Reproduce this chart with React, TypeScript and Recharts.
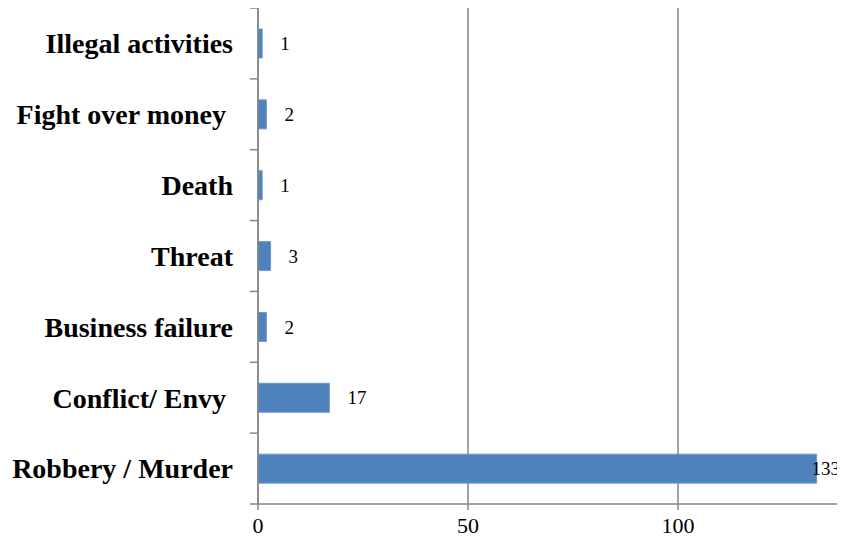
import React from "react";
import { BarChart, Bar, XAxis, YAxis, CartesianGrid, LabelList } from "recharts";

const categories = [
  "Illegal activities",
  "Fight over money ",
  "Death",
  "Threat",
  "Business failure",
  "Conflict/ Envy ",
  "Robbery / Murder",
];
const counts = [1, 2, 1, 3, 2, 17, 133];
const xTicks = [0, 50, 100];

const data = categories.map((name, i) => ({ name, value: counts[i] }));

const AXIS_COLOR = "#868686";
const BAR_COLOR = "#4F81BD";
const FONT = "'Liberation Serif', 'Times New Roman', serif";

const VISIBLE_W = 845;
const CHART_W = 900;
const CHART_H = 544;
const MARGIN = { top: 8, right: 12, bottom: 0, left: 0 };
const Y_W = 258;
const X_H = 40;
const LABEL_FS = 19;

const CategoryTick = (props: any) => {
  const { y, payload, index } = props;
  const plotH = CHART_H - MARGIN.top - MARGIN.bottom - X_H;
  const half =
    payload && typeof payload.offset === "number" && payload.offset > 0
      ? payload.offset
      : plotH / (2 * categories.length);
  const axisX = Y_W + MARGIN.left;
  return (
    <g>
      <line x1={axisX - 8} x2={axisX} y1={y - half} y2={y - half} stroke={AXIS_COLOR} strokeWidth={1.5} />
      {index === categories.length - 1 && (
        <line x1={axisX - 8} x2={axisX} y1={y + half} y2={y + half} stroke={AXIS_COLOR} strokeWidth={1.5} />
      )}
      <text
        x={axisX - 25}
        y={y}
        dy="0.35em"
        textAnchor="end"
        fontFamily={FONT}
        fontWeight="bold"
        fontSize={28}
        fill="#000"
        style={{ whiteSpace: "pre" }}
      >
        {payload.value}
      </text>
    </g>
  );
};

const NumberTick = (props: any) => {
  const { x, y, payload } = props;
  return (
    <text x={x} y={y} dy="0.75em" textAnchor="middle" fontFamily={FONT} fontSize={22} fill="#000">
      {payload.value}
    </text>
  );
};

const ValueLabel = (props: any) => {
  const { x, y, width, height, value } = props;
  const end = x + width;
  const gap = 18;
  const approxW = String(value).length * LABEL_FS * 0.5;
  const tx = end + gap + approxW > VISIBLE_W ? Math.min(end, VISIBLE_W - approxW - 5) : end + gap;
  return (
    <text x={tx} y={y + height / 2} dy="0.35em" textAnchor="start" fontFamily={FONT} fontSize={LABEL_FS} fill="#000">
      {value}
    </text>
  );
};

export default function App() {
  return (
    <div style={{ margin: -8, width: VISIBLE_W, height: 544, overflow: "hidden", background: "#fff" }}>
      <BarChart width={CHART_W} height={CHART_H} data={data} layout="vertical" margin={MARGIN} barCategoryGap={0}>
        <CartesianGrid horizontal={false} vertical={true} stroke={AXIS_COLOR} strokeWidth={1.5} />
        <XAxis
          type="number"
          domain={[0, 150]}
          ticks={xTicks}
          interval={0}
          height={X_H}
          axisLine={{ stroke: AXIS_COLOR, strokeWidth: 1.5 }}
          tickLine={{ stroke: AXIS_COLOR, strokeWidth: 1.5 }}
          tickSize={6}
          tickMargin={6}
          tick={<NumberTick />}
        />
        <YAxis
          type="category"
          dataKey="name"
          width={Y_W}
          axisLine={{ stroke: AXIS_COLOR, strokeWidth: 1.5 }}
          tickLine={false}
          tick={<CategoryTick />}
          interval={0}
        />
        <Bar dataKey="value" fill={BAR_COLOR} stroke="#6E9AD0" strokeWidth={1} barSize={29} isAnimationActive={false}>
          <LabelList dataKey="value" content={<ValueLabel />} />
        </Bar>
      </BarChart>
    </div>
  );
}
